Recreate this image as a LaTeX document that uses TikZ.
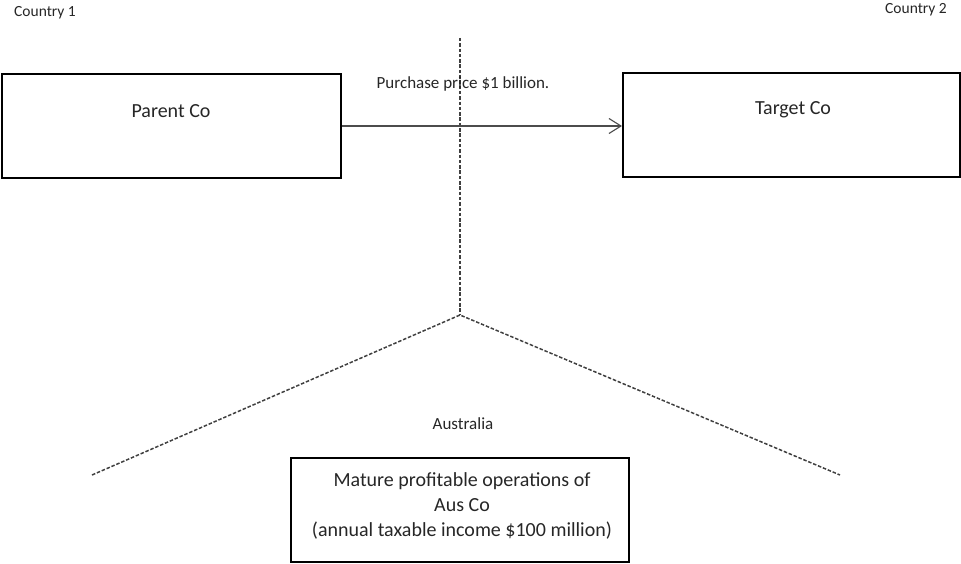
\documentclass[tikz,border=0pt]{standalone}
\usepackage{fontspec}
\setmainfont{Carlito}
\usetikzlibrary{arrows.meta}
\begin{document}
\begin{tikzpicture}[x=1pt,y=-1pt,
  entity/.style={draw=black,line width=2pt,rectangle,inner sep=0pt},
  caption/.style={inner sep=0pt,font=\fontsize{20}{25}\selectfont,align=center,text=black!85},
  small/.style={inner sep=0pt,font=\fontsize{15.5}{18}\selectfont,text=black!85},
  mid/.style={inner sep=0pt,font=\fontsize{17}{20}\selectfont,text=black!85},
  border/.style={draw=black!75,line width=1.5pt,dash pattern=on 3.5pt off 1.8pt},
  flow/.style={draw=black!70,line width=1.1pt,-{Straight Barb[length=12pt,width=15pt,line width=1.1pt]}}]
\useasboundingbox (0,0) rectangle (961,564);

% country borders
\coordinate (top) at (460,38);
\coordinate (meet) at (460,315);
\coordinate (leftend) at (92,475);
\coordinate (rightend) at (840,475);
\draw[border] (top) -- (meet);
\draw[border] (leftend) -- (meet) -- (rightend);

% companies
\node[entity,minimum width=339pt,minimum height=104pt] (parent) at (171.5,126) {};
\node[entity,minimum width=337pt,minimum height=104pt] (target) at (791.5,125) {};
\node[entity,minimum width=338pt,minimum height=104pt] (aus) at (460,510) {};

\node[caption] (parentlbl) at (171,111) {Parent Co};
\node[caption] (targetlbl) at (793,110) {Target Co};
\node[caption] (auslbl) at (462,506) {Mature profitable operations of\\Aus Co\\(annual taxable income \$100 million)};

% purchase
\draw[flow] (parent.east) -- (parent.east -| target.west);
\node[mid] (price) at (463,84) {Purchase price \$1 billion.};

% jurisdictions
\node[small] (c1) at (45,13) {Country 1};
\node[small] (c2) at (916,10) {Country 2};
\node[mid] (oz) at (463,424) {Australia};
\end{tikzpicture}
\end{document}
